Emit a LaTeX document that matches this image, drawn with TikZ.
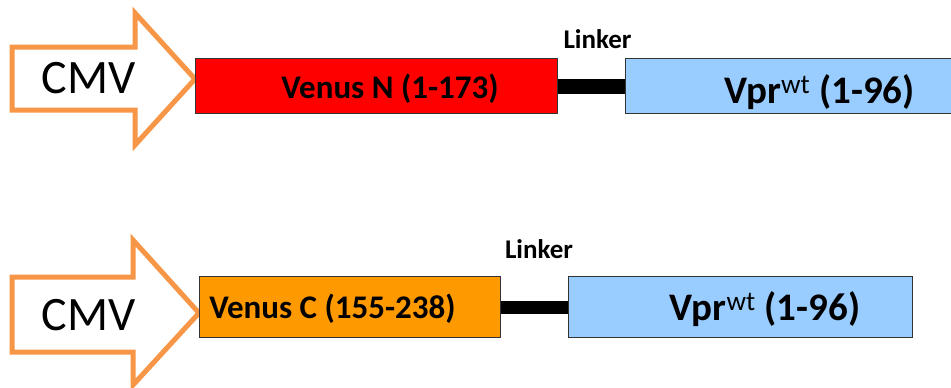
\documentclass[tikz,border=0pt]{standalone}
\usepackage{fontspec}
\setmainfont{Carlito}
\begin{document}
\begin{tikzpicture}[x=1pt,y=-1pt,
  promoter/.style={draw=cmvorange,line width=5pt,line join=miter,fill=white},
  protbox/.style={draw=black!80,line width=1.3pt,inner sep=0pt,anchor=north west},
  linkbar/.style={line width=15pt,black},
  lbl/.style={anchor=base,font=\bfseries,inner sep=0pt},
  cmvlbl/.style={anchor=base,font=\fontsize{48}{52}\selectfont,inner sep=0pt},
  domtxt/.style={lbl,font=\bfseries\fontsize{33}{36}\selectfont},
  vprtxt/.style={lbl,font=\bfseries\fontsize{39}{42}\selectfont},
  linktxt/.style={lbl,font=\bfseries\fontsize{27}{30}\selectfont}]
\definecolor{cmvorange}{HTML}{F79646}
\definecolor{venusn}{HTML}{FF0000}
\definecolor{venusc}{HTML}{FF9900}
\definecolor{vprblue}{HTML}{99CCFF}
\useasboundingbox (0,0) rectangle (951,388);
\clip (0,0) rectangle (951,388);

% ---- first construct ----
\draw[promoter] (12,47) -- (135,47) -- (135,13) -- (195,79) -- (135,145) -- (135,110) -- (12,110) -- cycle;
\node[cmvlbl] (cmv1) at (88.5,93) {CMV};
\node[protbox,fill=venusn,minimum width=362pt,minimum height=55pt] (vn) at (195,58) {};
\node[protbox,fill=vprblue,minimum width=340pt,minimum height=55pt] (vpr1) at (625,58) {};
\draw[linkbar] (vn.east) -- (vpr1.west);
\node[domtxt] (vntxt) at (390,98) {Venus N (1-173)};
\node[vprtxt] (vprtxt1) at (819.5,103) {Vpr\textsuperscript{\mdseries wt}~(1-96)};
\node[linktxt] (lk1) at (597.5,48) {Linker};

% ---- second construct ----
\draw[promoter] (12,277) -- (133,277) -- (133,240) -- (199,313) -- (133,385) -- (133,352) -- (12,352) -- cycle;
\node[cmvlbl] (cmv2) at (88.5,330) {CMV};
\node[protbox,fill=venusc,minimum width=301pt,minimum height=61pt] (vc) at (199,276) {};
\node[protbox,fill=vprblue,minimum width=344pt,minimum height=61pt] (vpr2) at (568,276) {};
\draw[linkbar,line width=13pt] (vc.east) -- (vpr2.west);
\node[domtxt] (vctxt) at (332.5,318) {Venus C (155-238)};
\node[vprtxt] (vprtxt2) at (765,320) {Vpr\textsuperscript{\mdseries wt}~(1-96)};
\node[linktxt] (lk2) at (539,258) {Linker};
\end{tikzpicture}
\end{document}
